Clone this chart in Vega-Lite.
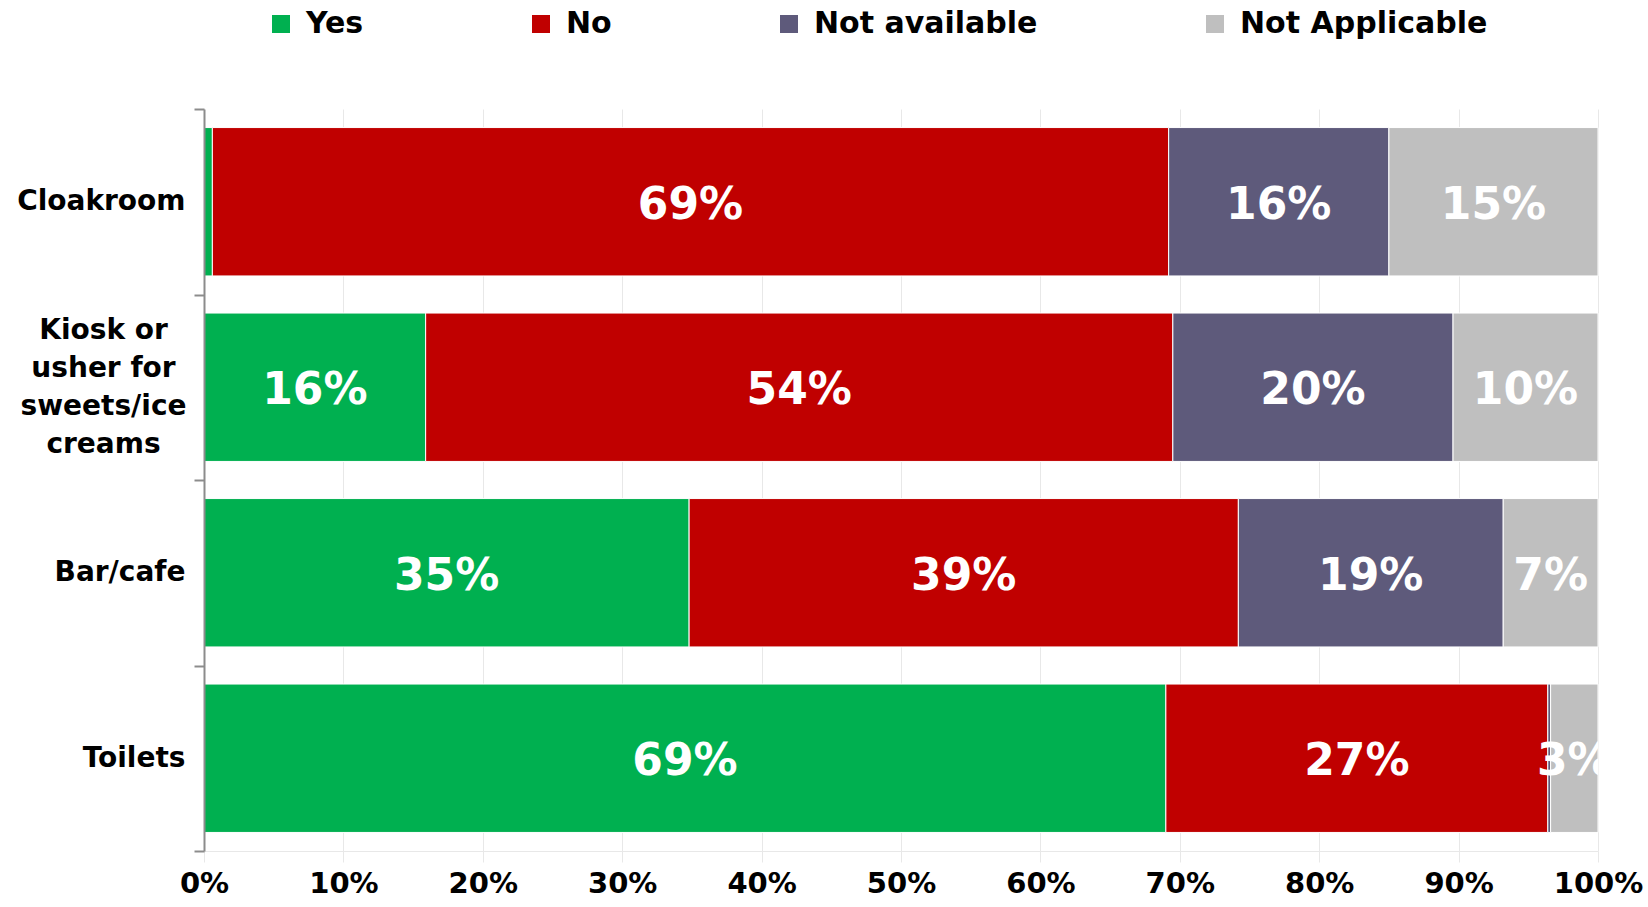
{
  "$schema": "https://vega.github.io/schema/vega-lite/v6.json",
  "width": 1394,
  "height": 742,
  "autosize": {"type": "none"},
  "padding": {"left": 204, "top": 109, "right": 50, "bottom": 56},
  "config": {"view": {"stroke": null}, "font": "DejaVu Sans"},
  "data": {
    "values": [
      {"cat": "Cloakroom", "resp": "Yes", "ord": 1, "value": 0.006},
      {"cat": "Cloakroom", "resp": "No", "ord": 2, "value": 0.686},
      {"cat": "Cloakroom", "resp": "Not available", "ord": 3, "value": 0.158},
      {"cat": "Cloakroom", "resp": "Not Applicable", "ord": 4, "value": 0.150},
      {"cat": "Kiosk or usher for sweets/ice creams", "resp": "Yes", "ord": 1, "value": 0.159},
      {"cat": "Kiosk or usher for sweets/ice creams", "resp": "No", "ord": 2, "value": 0.536},
      {"cat": "Kiosk or usher for sweets/ice creams", "resp": "Not available", "ord": 3, "value": 0.201},
      {"cat": "Kiosk or usher for sweets/ice creams", "resp": "Not Applicable", "ord": 4, "value": 0.104},
      {"cat": "Bar/cafe", "resp": "Yes", "ord": 1, "value": 0.348},
      {"cat": "Bar/cafe", "resp": "No", "ord": 2, "value": 0.394},
      {"cat": "Bar/cafe", "resp": "Not available", "ord": 3, "value": 0.190},
      {"cat": "Bar/cafe", "resp": "Not Applicable", "ord": 4, "value": 0.068},
      {"cat": "Toilets", "resp": "Yes", "ord": 1, "value": 0.690},
      {"cat": "Toilets", "resp": "No", "ord": 2, "value": 0.274},
      {"cat": "Toilets", "resp": "Not available", "ord": 3, "value": 0.002},
      {"cat": "Toilets", "resp": "Not Applicable", "ord": 4, "value": 0.034}
    ]
  },
  "transform": [
    {"stack": "value", "groupby": ["cat"], "sort": [{"field": "ord"}], "as": ["v0", "v1"]},
    {"calculate": "(datum.v0 + datum.v1) / 2", "as": "mid"}
  ],
  "encoding": {
    "y": {
      "field": "cat",
      "type": "nominal",
      "sort": ["Cloakroom", "Kiosk or usher for sweets/ice creams", "Bar/cafe", "Toilets"],
      "scale": {"paddingInner": 0, "paddingOuter": 0},
      "axis": {
        "title": null,
        "zindex": 1,
        "domainColor": "#8c8c8c",
        "domainWidth": 2,
        "tickColor": "#8c8c8c",
        "tickWidth": 2,
        "tickSize": 10,
        "tickBand": "extent",
        "grid": false,
        "labelFont": "DejaVu Sans",
        "labelFontSize": 28,
        "labelFontWeight": "bold",
        "labelColor": "black",
        "labelLineHeight": 38,
        "labelLimit": 0,
        "labelExpr": "datum.label == 'Kiosk or usher for sweets/ice creams' ? ['Kiosk or', 'usher for', 'sweets/ice', 'creams'] : datum.label",
        "labelAlign": {"condition": {"test": "datum.value == 'Kiosk or usher for sweets/ice creams'", "value": "center"}, "value": "right"},
        "labelPadding": {"condition": {"test": "datum.value == 'Kiosk or usher for sweets/ice creams'", "value": 91}, "value": 9},
        "labelOffset": {"condition": {"test": "datum.value == 'Kiosk or usher for sweets/ice creams'", "value": -57}, "value": 0}
      }
    }
  },
  "layer": [
    {
      "mark": {"type": "bar", "stroke": "white", "strokeWidth": 1, "height": {"band": 0.8}},
      "encoding": {
        "x": {
          "field": "v0",
          "type": "quantitative",
          "scale": {"domain": [0, 1]},
          "axis": {
            "title": null,
            "format": ".0%",
            "values": [0, 0.1, 0.2, 0.3, 0.4, 0.5, 0.6, 0.7, 0.8, 0.9, 1],
            "grid": true,
            "gridColor": "#e8e8e8",
            "domainColor": "#e8e8e8",
            "tickColor": "#e8e8e8",
            "tickSize": 11,
            "labelPadding": 7,
            "labelFont": "DejaVu Sans",
            "labelFontSize": 29,
            "labelFontWeight": "bold",
            "labelColor": "black",
            "labelFlush": false,
            "labelOverlap": false
          }
        },
        "x2": {"field": "v1"},
        "color": {
          "field": "resp",
          "type": "nominal",
          "scale": {
            "domain": ["Yes", "No", "Not available", "Not Applicable"],
            "range": ["#00B050", "#C00000", "#5E5A7B", "#BFBFBF"]
          },
          "legend": {
            "orient": "none",
            "legendX": 62,
            "legendY": -100,
            "direction": "horizontal",
            "columns": 4,
            "columnPadding": 162,
            "title": null,
            "padding": 0,
            "symbolType": "square",
            "symbolSize": 324,
            "symbolStrokeWidth": 0,
            "labelFont": "DejaVu Sans",
            "labelFontSize": 30,
            "labelFontWeight": "bold",
            "labelColor": "black",
            "labelOffset": 10,
            "labelLimit": 0
          }
        },
        "order": {"field": "ord", "type": "quantitative"}
      }
    },
    {
      "transform": [{"filter": "datum.value >= 0.025"}],
      "mark": {"type": "text", "color": "white", "font": "DejaVu Sans", "fontSize": 44, "fontWeight": "bold", "clip": true, "baseline": "middle", "dy": 4},
      "encoding": {
        "x": {"field": "mid", "type": "quantitative"},
        "text": {"field": "value", "type": "quantitative", "format": ".0%"}
      }
    }
  ]
}
